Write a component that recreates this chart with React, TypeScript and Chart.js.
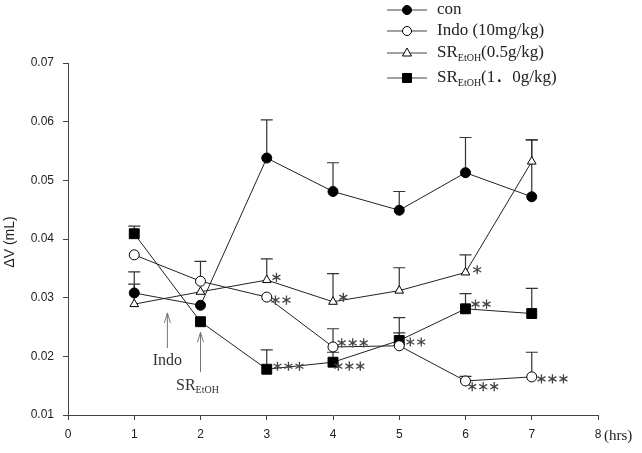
import React, { useEffect, useRef } from "react";
import { Chart, registerables } from "chart.js";

Chart.register(...registerables);

// ---- data ----
const hours = [1, 2, 3, 4, 5, 6, 7];
const xTicks = [0, 1, 2, 3, 4, 5, 6, 7, 8];
const yTicks = [0.01, 0.02, 0.03, 0.04, 0.05, 0.06, 0.07];

const conValues = [0.0308, 0.0287, 0.0538, 0.0481, 0.0449, 0.0513, 0.0472];
const conSem = [0.0036, 0, 0.0065, 0.0049, 0.0032, 0.006, 0.0097];

const indoValues = [0.0373, 0.0328, 0.0301, 0.0216, 0.0218, 0.0158, 0.0165];
const indoSem = [0, 0.0034, 0, 0.0031, 0.0022, 0.0008, 0.0042];

const sr05Values = [0.0289, 0.031, 0.033, 0.0293, 0.0312, 0.0343, 0.0532];
const sr05Sem = [0.0034, 0, 0.0036, 0.0048, 0.0039, 0.003, 0.0037];

const sr10Values = [0.0409, 0.0259, 0.0178, 0.019, 0.0227, 0.0281, 0.0273];
const sr10Sem = [0.0013, 0, 0.0033, 0.0017, 0.0039, 0.0026, 0.0043];

const legendLabels = ["con", "Indo (10mg/kg)", "SR|EtOH|(0.5g/kg)", "SR|EtOH|(1\uFF0E0g/kg)"];

// significance marks: series index, hour index, count of asterisks
const sigSeries = [2, 2, 2, 1, 1, 1, 1, 3, 3, 3, 3];
const sigIndex = [2, 3, 5, 2, 3, 5, 6, 2, 3, 4, 5];
const sigCount = [1, 1, 1, 2, 3, 3, 3, 3, 3, 2, 2];
// offsets (px) of first asterisk from the point
const sigDx = [9.7, 10.3, 11.7, 8.7, 8.7, 6.7, 9.7, 10.7, 5.3, 11, 10];
const sigDy = [-2.7, -4.4, -2.7, 3, -4, 5.7, 2, -3, 4, 1.5, -4.7];

const allValues = [conValues, indoValues, sr05Values, sr10Values];
const allSem = [conSem, indoSem, sr05Sem, sr10Sem];
const markerStyles = ["circleFilled", "circleOpen", "triangleOpen", "squareFilled"];

function drawMarker(ctx: CanvasRenderingContext2D, style: string, x: number, y: number) {
  ctx.save();
  ctx.lineWidth = 1;
  ctx.strokeStyle = "#000";
  ctx.beginPath();
  if (style === "circleFilled" || style === "circleOpen") {
    ctx.arc(x, y, 4.5, 0, Math.PI * 2);
    ctx.fillStyle = style === "circleFilled" ? "#000" : "#fff";
  } else if (style === "triangleOpen") {
    ctx.moveTo(x, y - 5);
    ctx.lineTo(x + 4.5, y + 3);
    ctx.lineTo(x - 4.5, y + 3);
    ctx.closePath();
    ctx.fillStyle = "#fff";
  } else {
    ctx.rect(x - 4.5, y - 4.5, 9, 9);
    ctx.fillStyle = "#000";
  }
  ctx.fill();
  ctx.stroke();
  ctx.restore();
}

function drawAsterisk(ctx: CanvasRenderingContext2D, cx: number, cy: number) {
  const r = 4.6;
  ctx.beginPath();
  for (let k = 0; k < 3; k++) {
    const a = Math.PI / 2 + (k * Math.PI) / 3;
    ctx.moveTo(cx + r * Math.cos(a), cy + r * Math.sin(a));
    ctx.lineTo(cx - r * Math.cos(a), cy - r * Math.sin(a));
  }
  ctx.stroke();
}

function drawSRLabel(ctx: CanvasRenderingContext2D, label: string, x: number, y: number, size: number) {
  const parts = label.split("|");
  ctx.font = `${size}px "Liberation Serif", "Noto Sans CJK SC", serif`;
  ctx.textBaseline = "middle";
  ctx.textAlign = "left";
  ctx.fillText(parts[0], x, y);
  let cx = x + ctx.measureText(parts[0]).width;
  if (parts.length > 1) {
    ctx.font = `${Math.round(size * 0.6)}px "Liberation Serif", serif`;
    ctx.fillText(parts[1], cx, y + size * 0.3);
    cx += ctx.measureText(parts[1]).width;
    ctx.font = `${size}px "Liberation Serif", "Noto Sans CJK SC", serif`;
    ctx.fillText(parts[2], cx, y);
  }
}

const overlayPlugin = {
  id: "overlay",
  beforeDatasetsDraw(chart: any) {
    const ctx = chart.ctx as CanvasRenderingContext2D;
    const xs = chart.scales.x;
    const ys = chart.scales.y;
    ctx.save();
    ctx.strokeStyle = "#333";
    ctx.lineWidth = 1.2;
    allValues.forEach((vals, s) => {
      vals.forEach((v, i) => {
        const e = allSem[s][i];
        if (!e) return;
        const x = xs.getPixelForValue(hours[i]);
        const y0 = ys.getPixelForValue(v);
        const y1 = ys.getPixelForValue(v + e);
        ctx.beginPath();
        ctx.moveTo(x, y0);
        ctx.lineTo(x, y1);
        ctx.moveTo(x - 6, y1);
        ctx.lineTo(x + 6, y1);
        ctx.stroke();
      });
    });
    ctx.restore();
  },
  afterDraw(chart: any) {
    const ctx = chart.ctx as CanvasRenderingContext2D;
    const xs = chart.scales.x;
    const ys = chart.scales.y;
    ctx.save();

    // significance asterisks
    ctx.strokeStyle = "#444";
    ctx.lineWidth = 1.3;
    sigSeries.forEach((s, k) => {
      const i = sigIndex[k];
      const px = xs.getPixelForValue(hours[i]);
      const py = ys.getPixelForValue(allValues[s][i]);
      for (let n = 0; n < sigCount[k]; n++) {
        drawAsterisk(ctx, px + sigDx[k] + n * 11, py + sigDy[k]);
      }
    });

    // arrows
    ctx.strokeStyle = "#777";
    ctx.lineWidth = 1;
    const arrow = (hx: number, vTop: number, vBot: number) => {
      const x = xs.getPixelForValue(hx);
      const yt = ys.getPixelForValue(vTop);
      const yb = ys.getPixelForValue(vBot);
      ctx.beginPath();
      ctx.moveTo(x, yb);
      ctx.lineTo(x, yt);
      ctx.moveTo(x - 3, yt + 10);
      ctx.lineTo(x, yt);
      ctx.lineTo(x + 3, yt + 10);
      ctx.stroke();
    };
    arrow(1.5, 0.0274, 0.0214);
    arrow(2, 0.0241, 0.0173);
    ctx.fillStyle = "#333";
    ctx.font = '16px "Liberation Serif", serif';
    ctx.textAlign = "center";
    ctx.textBaseline = "middle";
    ctx.fillText("Indo", xs.getPixelForValue(1.5), 361);
    drawSRLabel(ctx, "SR|EtOH|", 176, 386, 16);

    // legend
    const rows = [10, 31, 53, 78];
    legendLabels.forEach((lab, r) => {
      const y = rows[r];
      ctx.strokeStyle = "#444";
      ctx.lineWidth = 1;
      ctx.beginPath();
      ctx.moveTo(387, y);
      ctx.lineTo(427, y);
      ctx.stroke();
      drawMarker(ctx, markerStyles[r], 407, y);
      ctx.fillStyle = "#222";
      drawSRLabel(ctx, lab, 437, y, 17);
    });

    // axis titles
    ctx.fillStyle = "#222";
    ctx.font = '15px "Liberation Serif", serif';
    ctx.textAlign = "left";
    ctx.textBaseline = "middle";
    ctx.fillText("(hrs)", 604, 436);

    ctx.translate(10, 242);
    ctx.rotate(-Math.PI / 2);
    ctx.font = '14px "Liberation Sans", Arial, sans-serif';
    ctx.textAlign = "center";
    ctx.fillText("\u0394V (mL)", 0, 0);
    ctx.restore();
  },
};

export default function App() {
  const ref = useRef<HTMLCanvasElement>(null);
  useEffect(() => {
    if (!ref.current) return;
    const mk = (vals: number[], style: string) => {
      const base: any = {
        data: vals.map((v, i) => ({ x: hours[i], y: v })),
        borderColor: "#222",
        borderWidth: 1,
        showLine: true,
        pointBorderColor: "#000",
        pointBorderWidth: 1,
        pointHoverRadius: 5,
      };
      if (style === "circleFilled") Object.assign(base, { pointStyle: "circle", pointRadius: 5, pointBackgroundColor: "#000" });
      if (style === "circleOpen") Object.assign(base, { pointStyle: "circle", pointRadius: 5, pointBackgroundColor: "#fff" });
      if (style === "triangleOpen") Object.assign(base, { pointStyle: "triangle", pointRadius: 5, pointBackgroundColor: "#fff" });
      if (style === "squareFilled") Object.assign(base, { pointStyle: "rect", pointRadius: 7, pointBackgroundColor: "#000" });
      return base;
    };
    const chart = new Chart(ref.current, {
      type: "scatter",
      data: {
        datasets: allValues.map((v, s) => mk(v, markerStyles[s])),
      },
      options: {
        animation: false,
        responsive: true,
        maintainAspectRatio: false,
        layout: { padding: { top: 63, right: 44, bottom: 0, left: 0 } },
        plugins: { legend: { display: false }, tooltip: { enabled: false } },
        scales: {
          x: {
            type: "linear",
            min: 0,
            max: 8,
            afterFit: (s: any) => {
              s.height = 38;
            },
            afterBuildTicks: (s: any) => {
              s.ticks = xTicks.map((v) => ({ value: v }));
            },
            ticks: {
              padding: 7,
              color: "#222",
              font: { family: '"Liberation Sans", Arial, sans-serif', size: 12 },
              callback: (v: any) => String(v),
            },
            grid: { display: true, drawOnChartArea: false, drawTicks: true, tickLength: 5, color: "#444" },
            border: { display: true, color: "#444", width: 1 },
          },
          y: {
            type: "linear",
            min: 0.01,
            max: 0.07,
            afterFit: (s: any) => {
              s.width = 68;
            },
            afterBuildTicks: (s: any) => {
              s.ticks = yTicks.map((v) => ({ value: v }));
            },
            ticks: {
              padding: 9,
              color: "#222",
              font: { family: '"Liberation Sans", Arial, sans-serif', size: 12 },
              callback: (v: any) => Number(v).toFixed(2),
            },
            grid: { display: true, drawOnChartArea: false, drawTicks: true, tickLength: 5, color: "#444" },
            border: { display: true, color: "#444", width: 1 },
          },
        },
      },
      plugins: [overlayPlugin],
    });
    return () => chart.destroy();
  }, []);
  return (
    <div style={{ position: "absolute", left: 0, top: 0, width: 642, height: 453, background: "#fff" }}>
      <canvas ref={ref} />
    </div>
  );
}
